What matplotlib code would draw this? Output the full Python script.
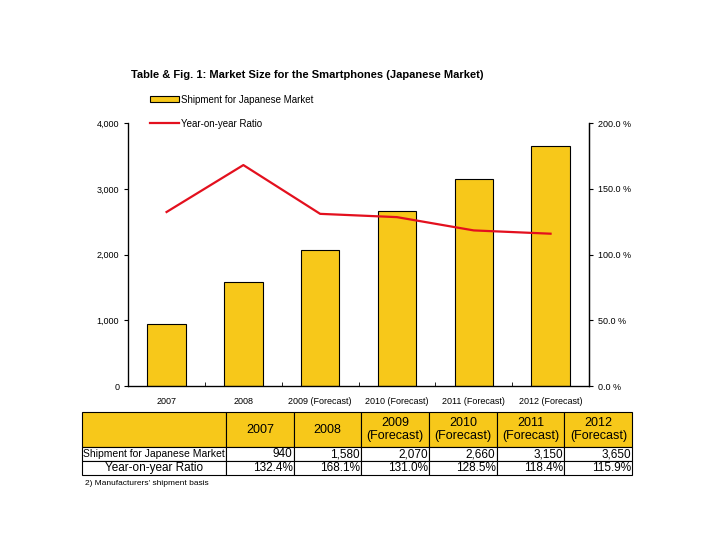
import numpy as np
import matplotlib.pyplot as plt
from matplotlib.lines import Line2D
from matplotlib.patches import Patch

plt.rcParams['font.family'] = ['Liberation Sans', 'DejaVu Sans']

years = ['2007', '2008', '2009 (Forecast)', '2010 (Forecast)', '2011 (Forecast)', '2012 (Forecast)']
table_years = ['2007', '2008', '2009\n(Forecast)', '2010\n(Forecast)', '2011\n(Forecast)', '2012\n(Forecast)']
shipments = [940, 1580, 2070, 2660, 3150, 3650]
yoy_ratio = [132.4, 168.1, 131.0, 128.5, 118.4, 115.9]

bar_color = '#F7C81A'
line_color = '#E3101E'

fig = plt.figure(figsize=[7.2, 5.4], dpi=100)
ax = fig.add_axes([0.178, 0.285, 0.640, 0.487])

x = np.arange(len(years))
ax.bar(x, shipments, width=0.5, color=bar_color, edgecolor='black', linewidth=0.8)
ax.set_xlim(-0.5, len(years) - 0.5)
ax.set_ylim(0, 4000)
ax.set_yticks([0, 1000, 2000, 3000, 4000])
ax.set_yticklabels([f"{v:,}" for v in [0, 1000, 2000, 3000, 4000]], fontsize=6.5)
ax.set_xticks(x)
ax.set_xticklabels(years, fontsize=6.5)
ax.tick_params(axis='x', length=0, pad=8)
ax.set_xticks(np.arange(-0.5, len(years)), minor=True)
ax.tick_params(axis='x', which='minor', direction='in', length=3)
ax.tick_params(axis='y', direction='out', length=3, width=0.8)
ax.spines['top'].set_visible(False)
for s in ['left', 'bottom', 'right']:
    ax.spines[s].set_linewidth(0.9)

ax2 = ax.twinx()
ax2.plot(x, yoy_ratio, color=line_color, linewidth=1.6)
ax2.set_ylim(0, 200)
ax2.set_yticks([0, 50, 100, 150, 200])
ax2.set_yticklabels([f"{v:.1f} %" for v in [0, 50, 100, 150, 200]], fontsize=6.5)
ax2.tick_params(axis='y', direction='out', length=3, width=0.8)
ax2.spines['top'].set_visible(False)
ax2.spines['right'].set_linewidth(0.9)

fig.text(0.182, 0.861, 'Table & Fig. 1: Market Size for the Smartphones (Japanese Market)',
         fontsize=8, fontweight='bold', va='center')

handles = [Patch(facecolor=bar_color, edgecolor='black', linewidth=0.8),
           Line2D([0], [0], color=line_color, linewidth=1.6)]
fig.legend(handles, ['Shipment for Japanese Market', 'Year-on-year Ratio'],
           loc='upper left', bbox_to_anchor=(0.202, 0.834), frameon=False,
           fontsize=7, handlelength=3.0, handleheight=0.6, handletextpad=0.2,
           labelspacing=1.45, borderpad=0)

# table below the chart
tax = fig.add_axes([0.114, 0.120, 0.764, 0.117])
tax.axis('off')
cell_text = [[''] + table_years,
             ['Shipment for Japanese Market'] + [f"{v:,}" for v in shipments],
             ['Year-on-year Ratio'] + [f"{v:.1f}%" for v in yoy_ratio]]
first_w = 144 / 550
col_w = (1 - first_w) / len(years)
tbl = tax.table(cellText=cell_text, colWidths=[first_w] + [col_w] * len(years),
                bbox=[0, 0, 1, 1], cellLoc='center')
tbl.auto_set_font_size(False)
row_h = [35 / 63, 14 / 63, 14 / 63]
for (r, c), cell in tbl.get_celld().items():
    cell.set_height(row_h[r])
    cell.set_linewidth(0.8)
    cell.PAD = 0.02
    txt = cell.get_text()
    txt.set_fontsize(8.5)
    if r == 0:
        cell.set_facecolor(bar_color)
        txt.set_fontsize(9)
        txt.set_linespacing(1.05)
    elif c > 0:
        txt.set_horizontalalignment('right')
        cell._loc = 'right'
    else:
        txt.set_fontsize(7.5 if r == 1 else 8.5)

fig.text(0.118, 0.105, "2) Manufacturers' shipment basis", fontsize=6, va='center')

plt.savefig('out.png', dpi=100)
